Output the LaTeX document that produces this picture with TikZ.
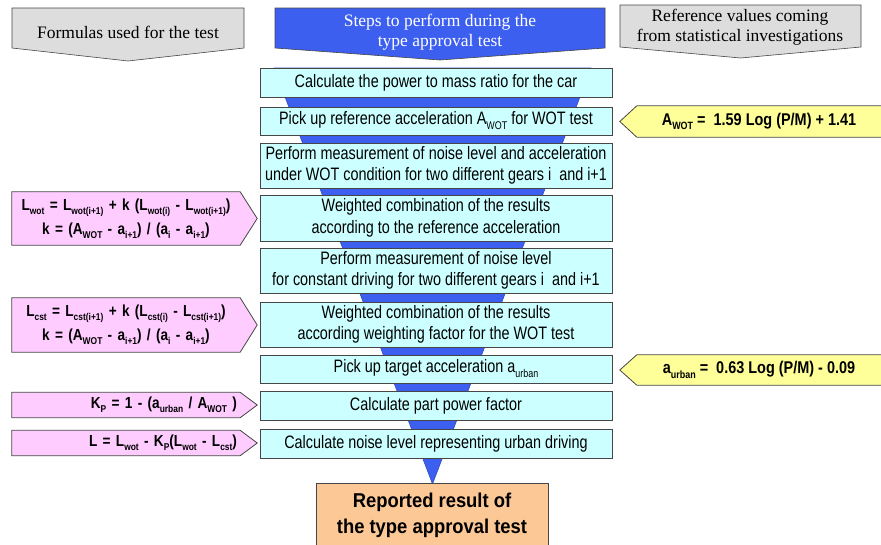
\documentclass[tikz,border=0pt]{standalone}
\usepackage{fontspec}
\usepackage{graphicx}
\setmainfont{Liberation Serif}
\newfontfamily\boxfont[FakeStretch=0.8]{Liberation Sans}
\newfontfamily\formfont[FakeStretch=0.85]{Liberation Sans}
\newfontfamily\resfont[FakeStretch=0.92]{Liberation Sans}
\usetikzlibrary{backgrounds}
\definecolor{funnelblue}{RGB}{60,95,240}
\definecolor{stepcyan}{RGB}{204,255,255}
\definecolor{formpink}{RGB}{255,204,255}
\definecolor{refyellow}{RGB}{255,255,153}
\definecolor{resorange}{RGB}{252,200,150}
\definecolor{headgray}{RGB}{221,221,221}
\definecolor{edgegray}{RGB}{70,70,70}
\newcommand\low[1]{\raisebox{-0.28em}{\scalebox{0.62}{#1}}}
\tikzstyle{stepbox}=[draw=edgegray, fill=stepcyan, line width=0.8pt, minimum width=352pt, inner sep=0pt, align=center, font=\boxfont\fontsize{18}{21.5}\selectfont]
\tikzstyle{formbox}=[inner xsep=3pt, inner ysep=0pt, text width=222pt, font=\formfont\bfseries\fontsize{16}{24}\selectfont]
\tikzstyle{refbox}=[minimum width=244pt, inner sep=0pt, align=center, font=\formfont\bfseries\fontsize{17}{21}\selectfont]
\tikzstyle{formarrow}=[draw=edgegray, fill=formpink, line width=0.8pt]
\tikzstyle{refarrow}=[draw=edgegray, fill=refyellow, line width=0.8pt]
\tikzstyle{headshape}=[draw=edgegray, line width=0.6pt]
\tikzstyle{headtext}=[align=center, inner sep=0pt, font=\fontsize{17.5}{20}\selectfont]
\tikzstyle{funnel}=[fill=funnelblue, draw=funnelblue!80!black, line width=0.6pt]
\tikzstyle{resbox}=[draw=edgegray, fill=resorange, line width=0.8pt, minimum width=232pt, minimum height=65pt, inner sep=0pt, align=center, font=\resfont\bfseries\fontsize{20}{26}\selectfont]

\begin{document}
\begin{tikzpicture}[x=1pt, y=-1pt]

    \useasboundingbox (0,0) rectangle (881,544);

    % column heads
    \foreach \l/\r/\t/\s/\p/\c in {12/244/8/48/61/headgray, 275/605/8/48/60/funnelblue, 620/861/5/47/58/headgray}
        \path[headshape, fill=\c] (\l,\t) -- (\r,\t) -- (\r,\s) -- ({(\l+\r)/2},\p) -- (\l,\s) -- cycle;

    \node[headtext] (hform) at (128,32) {Formulas used for the test};
    \node[headtext, white] (hsteps) at (440,32) {Steps to perform during the\\type approval test};
    \node[headtext] (hrefs) at (740,27) {Reference values coming\\from statistical investigations};

    % steps
    \foreach \y/\h/\name/\txt in {82.5/29/c1/{Calculate the power to mass ratio for the car},
            121/28/c2/{Pick up reference acceleration A\low{WOT} for WOT test},
            165.5/45/c3/{Perform measurement of noise level and acceleration\\under WOT condition for two different gears i~ and i+1},
            218/46/c4/{Weighted combination of the results\\according to the reference acceleration},
            270.5/45/c5/{Perform measurement of noise level\\for constant driving for two different gears i~ and i+1},
            324.5/45/c6/{Weighted combination of the results\\according weighting factor for the WOT test},
            369/28/c7/{Pick up target acceleration a\low{urban}},
            405.5/29/c8/{Calculate part power factor},
            443.5/29/c9/{Calculate noise level representing urban driving}}
        \node[stepbox, minimum height=\h] (\name) at (436,\y) {\txt};

    \coordinate (tip) at (432.5,484);
    \node[resbox] (res) at (432,515.5) {Reported result of\\the type approval test};

    % formulas
    \foreach \y/\h/\al/\name/\txt in {218.5/53/center/f1/{L\low{wot} = L\low{wot(i+1)} + k (L\low{wot(i)} - L\low{wot(i+1)})\\k = (A\low{WOT} - a\low{i+1}) / (a\low{i} - a\low{i+1})},
            325/54/center/f2/{L\low{cst} = L\low{cst(i+1)} + k (L\low{cst(i)} - L\low{cst(i+1)})\\k = (A\low{WOT} - a\low{i+1}) / (a\low{i} - a\low{i+1})},
            405/25/right/f3/{K\low{P} = 1 - (a\low{urban} / A\low{WOT} )},
            443/25/right/f4/{L = L\low{wot} - K\low{P}(L\low{wot} - L\low{cst})}}
        \node[formbox, minimum height=\h, align=\al] (\name) at (126,\y) {\txt};

    % reference values
    \foreach \y/\h/\name/\txt in {121.5/31/r1/{A\low{WOT} =~ 1.59 Log (P/M) + 1.41},
            370/30/r2/{a\low{urban} =~ 0.63 Log (P/M) - 0.09}}
        \node[refbox, minimum height=\h] (\name) at (759,\y) {\txt};

    \begin{pgfonlayer}{background}
        \path[funnel] (274,68) -- (591,68) -- (tip) -- cycle;
        \foreach \name in {f1,f2,f3,f4}
            \path[formarrow] (\name.north west) -- (\name.north east) -- ([xshift=17pt]\name.east) -- (\name.south east) -- (\name.south west) -- cycle;
        \foreach \name in {r1,r2}
            \path[refarrow] ([xshift=12pt]\name.north east) -- (\name.north west) -- ([xshift=-17pt]\name.west) -- (\name.south west) -- ([xshift=12pt]\name.south east);
    \end{pgfonlayer}

\end{tikzpicture}
\end{document}
